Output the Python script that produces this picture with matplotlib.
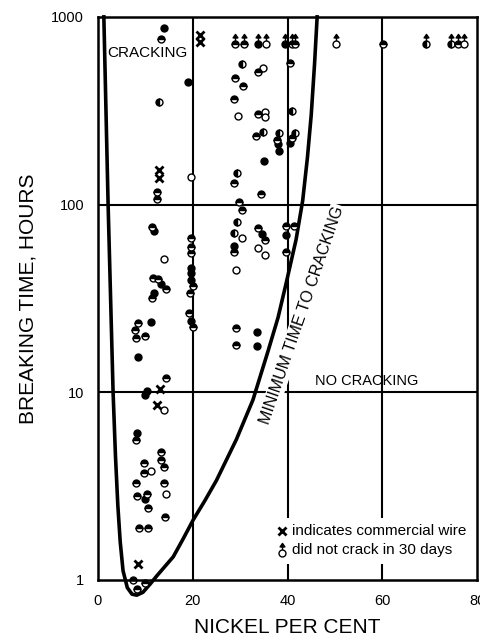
import matplotlib
matplotlib.use("Agg")
import matplotlib.pyplot as plt
from matplotlib.path import Path
from matplotlib.patches import Rectangle
from matplotlib.ticker import NullLocator

plt.rcParams["font.family"] = ["Liberation Sans", "DejaVu Sans"]

# ── envelope curve (minimum time to cracking) ─────────────────────────────
ENV_NI = [1.25, 2.15, 3.2, 3.7, 4.2, 4.7, 5.3, 6.2, 7.2, 8.2, 9.5, 11.0, 12.4,
          14.0, 15.9, 18.0, 20.1, 22.5, 25.0, 29.2, 32.7, 35.9, 38.0, 39.7,
          41.8, 43.2, 44.2, 45.0, 45.7, 46.25]
ENV_H = [1000, 100, 10, 4.6, 2.5, 1.6, 1.12, 0.91, 0.84, 0.83, 0.86, 0.95, 1.05,
         1.17, 1.33, 1.66, 2.09, 2.63, 3.39, 5.6, 9.1, 16.6, 25, 38,
         65, 105, 178, 300, 560, 1000]

# ── test results ───────────────────────────────────────────────────────────
FILLED_NI = [13.9, 18.9, 38.0, 38.2, 40.6, 35.0, 28.8, 34.7, 39.6, 33.6, 33.6,
             11.9, 13.4, 11.8, 19.7, 19.7, 19.7, 19.7, 11.3, 8.5, 10.3, 9.9,
             8.3, 9.9]
FILLED_H = [875, 448, 210, 193, 212, 171, 60, 70, 69, 20.9, 17.7,
            72, 37.8, 34, 46, 43, 39.7, 24, 23.6, 15.5, 10.2, 9.7,
            6.05, 2.70]

OPEN_NI = [19.6, 34.8, 35.2, 35.2, 29.5, 30.5, 29.1, 33.7, 35.2, 14.0, 13.9,
           11.1, 14.3]
OPEN_H = [141, 536, 313, 294, 298, 66, 45, 59, 54, 51, 8.0,
          3.82, 2.87]

HALF_LEFT_NI = [12.8, 30.3, 40.9, 34.8, 38.1, 41.5, 29.3, 29.4, 28.8]
HALF_LEFT_H = [353, 561, 314, 244, 240, 242, 147, 81, 71]

HALF_TOP_NI = [13.3, 12.5, 12.5, 33.7, 40.6, 29.0, 30.6, 28.8, 33.7, 33.3,
               37.7, 40.9, 28.8, 34.5, 29.7, 30.3, 28.8, 33.7, 35.2, 39.7,
               41.3, 39.7, 29.1, 29.1,
               11.4, 11.6, 12.7, 14.3, 11.4, 19.7, 19.7, 19.7, 20.1, 19.4,
               19.2, 20.1, 8.5, 7.9, 8.1, 10.0, 14.3, 8.0, 13.4, 13.4, 14.0,
               9.7, 9.7, 8.0, 13.9, 8.3, 10.4, 10.5, 14.2, 8.6, 10.6,
               7.4, 9.9, 8.3]
HALF_TOP_H = [760, 116, 107, 507, 566, 471, 428, 364, 304, 233,
              221, 225, 131, 114, 103, 94, 56, 75, 65, 77,
              77, 56, 22, 17.9,
              76, 40.8, 40, 35.5, 31.7, 66, 59.7, 55, 36.8, 33.7,
              26.4, 22.4, 23.3, 21.5, 19.4, 20, 11.9, 5.57, 4.79, 4.36, 3.99,
              4.2, 3.73, 3.27, 3.30, 2.81, 2.87, 2.43, 2.17, 1.90, 1.90,
              1.0, 0.96, 0.90]

# commercial wire
COMM_NI = [21.5, 21.5, 12.8, 12.8, 13.2, 12.5, 8.4]
COMM_H = [800, 735, 153, 139, 10.4, 8.6, 1.22]

# did not crack in 30 days (720 h)
NOCRACK_H = 720
NOCRACK_NI = [29.0, 30.8, 33.8, 35.5, 39.4, 40.9, 41.5, 50.2, 69.2, 74.5, 75.9, 77.3]
NOCRACK_KIND = ["top", "top", "full", "none", "full", "top", "top", "none",
                "left", "left", "top", "none"]
NOARROW_NI = [60.1]

MS = 5
ARROW = Path([(0, 1.0), (0, 2.1), (-0.7, 1.9), (0.7, 1.9), (0, 2.9), (-0.7, 1.9)],
             [Path.MOVETO, Path.LINETO, Path.MOVETO, Path.LINETO, Path.LINETO,
              Path.CLOSEPOLY])

fig = plt.figure(figsize=(4.8, 6.37), dpi=100)
ax = fig.add_axes([0.204, 0.0895, 0.790, 0.884])
ax.set_yscale("log")
ax.set_xlim(0, 80)
ax.set_ylim(1, 1000)
ax.set_xticks([0, 20, 40, 60, 80])
ax.set_xticklabels(["0", "20", "40", "60", "80"])
ax.set_yticks([1, 10, 100, 1000])
ax.set_yticklabels(["1", "10", "100", "1000"])
ax.yaxis.set_minor_locator(NullLocator())
ax.tick_params(axis="both", length=0, labelsize=10.5)
ax.tick_params(axis="x", pad=10)
ax.tick_params(axis="y", pad=10)
for s in ax.spines.values():
    s.set_linewidth(1.8)
    s.set_zorder(6)

for xv in [20, 40, 60]:
    ax.axvline(xv, color="black", lw=1.5, zorder=1)
for yv in [10, 100]:
    ax.axhline(yv, color="black", lw=1.5, zorder=1)

ax.set_xlabel("NICKEL PER CENT", fontsize=15, labelpad=7)
ax.set_ylabel("BREAKING TIME, HOURS", fontsize=15, labelpad=10)

# envelope
ax.plot(ENV_NI, ENV_H, color="black", lw=2.6, clip_on=False, zorder=4,
        solid_joinstyle="round")


def dots(ni, h, fill):
    if fill == "none":
        kw = dict(mfc="white", fillstyle="full")
    else:
        kw = dict(mfc="black", fillstyle=fill, markerfacecoloralt="white")
    ax.plot(ni, h, ls="none", marker="o", ms=MS, mew=1.0, mec="black",
            clip_on=False, zorder=5, **kw)


dots(FILLED_NI, FILLED_H, "full")
dots(OPEN_NI, OPEN_H, "none")
dots(HALF_LEFT_NI, HALF_LEFT_H, "left")
dots(HALF_TOP_NI, HALF_TOP_H, "top")
ax.plot(COMM_NI, COMM_H, ls="none", marker="x", ms=5.5, mew=2.0, color="black",
        zorder=5)

for ni, kind in zip(NOCRACK_NI, NOCRACK_KIND):
    dots([ni], [NOCRACK_H], kind)
ax.plot(NOCRACK_NI, [NOCRACK_H] * len(NOCRACK_NI), ls="none", marker=ARROW,
        ms=MS * 2.9, mew=1.0, color="black", clip_on=False, zorder=5)
dots(NOARROW_NI, [NOCRACK_H], "top")

# region labels
white = dict(facecolor="white", edgecolor="none", pad=1)
ax.text(10.5, 641, "CRACKING", fontsize=11, ha="center", va="center",
        bbox=white, zorder=3)
ax.text(56.8, 11.5, "NO CRACKING", fontsize=10.5, ha="center", va="center",
        zorder=3)
ax.text(43.0, 25.8, "MINIMUM TIME TO CRACKING", fontsize=11.5, rotation=71,
        ha="center", va="center", rotation_mode="anchor", bbox=white, zorder=3)

# key
ax.add_patch(Rectangle((0.47, 0.028), 0.517, 0.082, transform=ax.transAxes,
                       facecolor="white", edgecolor="none", zorder=2))
ax.plot([0.4855], [0.087], transform=ax.transAxes, ls="none", marker="x", ms=5.5,
        mew=2.0, color="black", zorder=5)
ax.plot([0.4855], [0.048], transform=ax.transAxes, ls="none", marker="o", ms=MS,
        mew=1.0, mec="black", mfc="white", zorder=5)
ax.plot([0.4855], [0.048], transform=ax.transAxes, ls="none", marker=ARROW,
        ms=MS * 2.9, mew=1.0, color="black", zorder=5)
ax.text(0.512, 0.087, "indicates commercial wire", transform=ax.transAxes,
        fontsize=11, ha="left", va="center", zorder=5)
ax.text(0.512, 0.0533, "did not crack in 30 days", transform=ax.transAxes,
        fontsize=11, ha="left", va="center", zorder=5)

fig.savefig("out.png", dpi=100)
